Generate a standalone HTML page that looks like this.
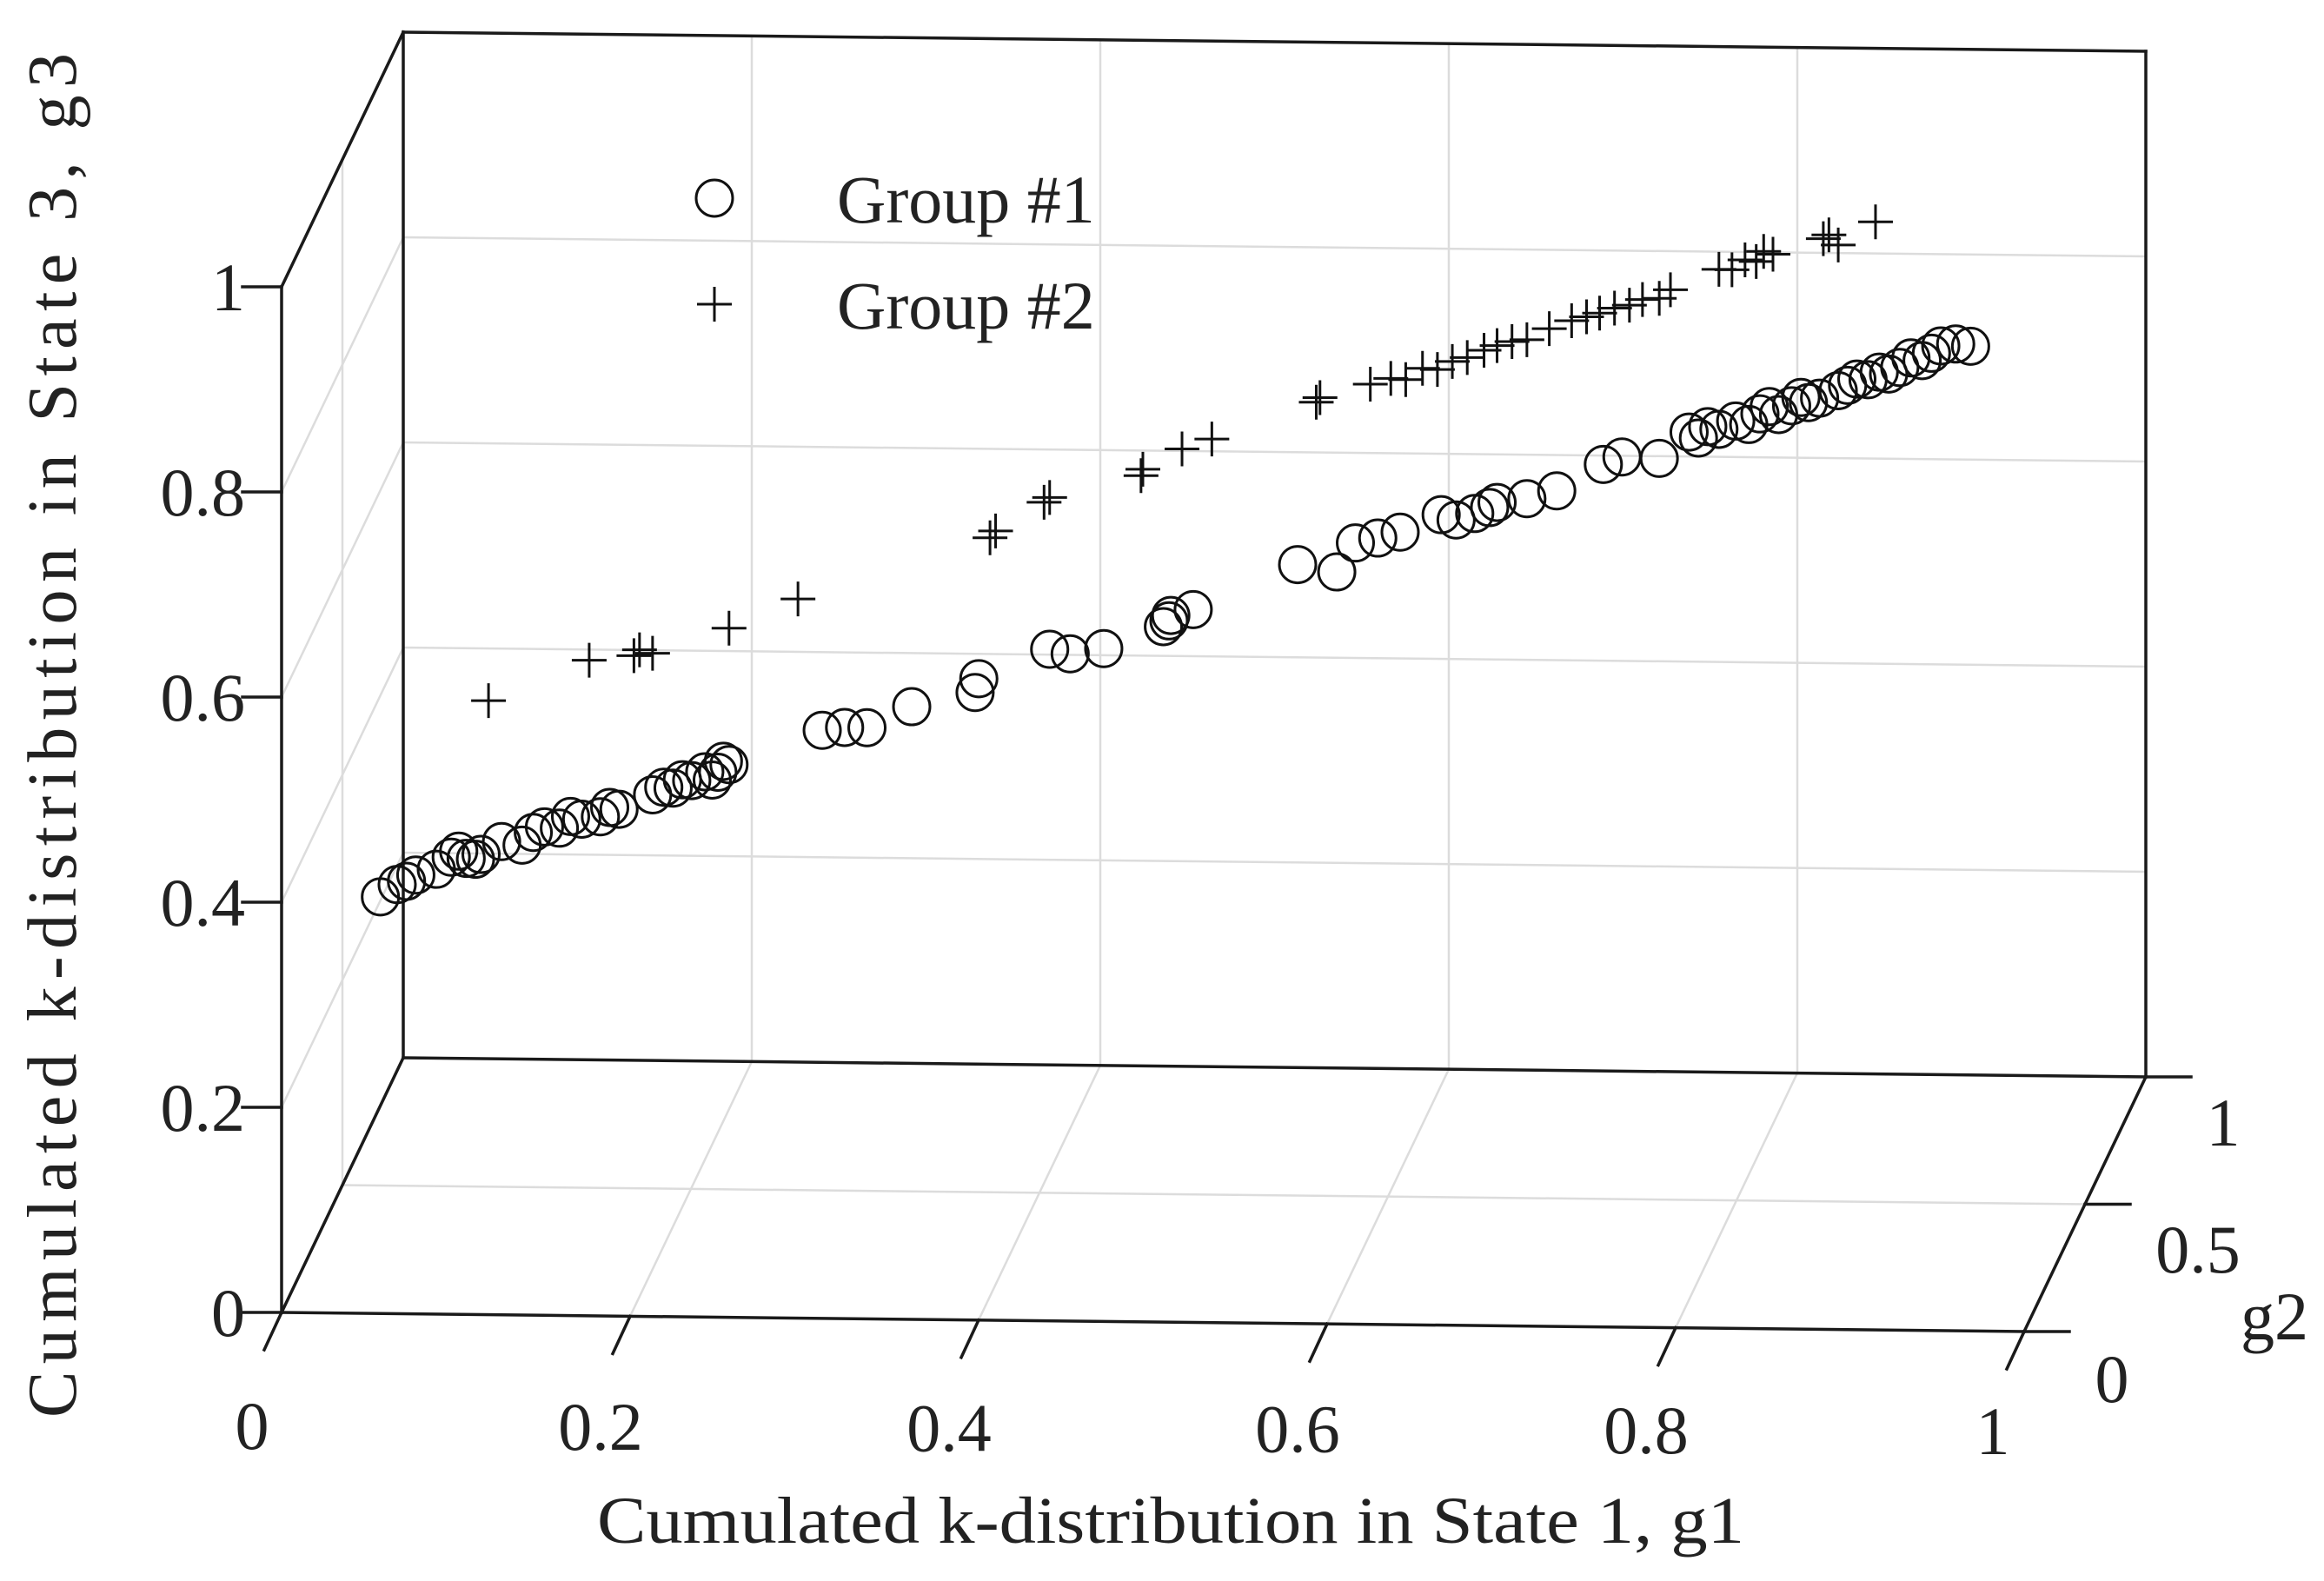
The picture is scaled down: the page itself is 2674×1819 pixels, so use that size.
<!DOCTYPE html>
<html><head><meta charset="utf-8"><style>
html,body{margin:0;padding:0;background:#fff}
svg{display:block}
text{font-family:"Liberation Serif",serif;fill:#222}
</style></head><body>
<svg id="chart" width="2674" height="1819" viewBox="0 0 2674 1819" xmlns="http://www.w3.org/2000/svg">
<g id="grid"></g>
<g id="box"></g>
<g id="ticks"></g>
<g id="marks"></g>
<text x="1347" y="1775" font-size="76" text-anchor="middle" textLength="1320" lengthAdjust="spacingAndGlyphs">Cumulated k-distribution in State 1, g1</text>
<text transform="translate(87,846) rotate(-90)" font-size="80" text-anchor="middle" textLength="1570" lengthAdjust="spacing">Cumulated k-distribution in State 3, g3</text>
<text x="2617" y="1541" font-size="78" text-anchor="middle">g2</text>
<g>
  <circle cx="822" cy="228" r="21" fill="none" stroke="#111" stroke-width="3"/>
  <text x="963" y="256" font-size="78">Group #1</text>
  <path d="M802 350H842M822 330V370" stroke="#111" stroke-width="3"/>
  <text x="963" y="378" font-size="78">Group #2</text>
</g>
</svg>
<script>
const g1Circle=[.053,.062,.072,.083,.091,.099,.107,.129,.141,.149,.161,.171,.181,.199,.205,.215,.227,.234,.240,.290,.302,.314,.338,.372,.374,.412,.423,.441,.473,.477,.489,.545,.566,.576,.588,.600,.622,.640,.652,.668,.684,.709,.719,.739,.755,.771,.787,.803,.819,.835,.851,.862,.874,.890,.898,.906,
 .067,.095,.104,.118,.135,.155,.176,.210,.220,.231,.237,.476,.630,.648,.760,.765,.780,.793,.798,.810,.815,.825,.840,.845,.857,.868,.880,.885];
const g3Circle=[.393,.403,.410,.413,.423,.420,.422,.426,.441,.438,.444,.444,.449,.459,.465,.470,.475,.473,.479,.501,.501,.498,.513,.519,.532,.552,.545,.546,.560,.570,.573,.604,.592,.618,.620,.623,.635,.632,.640,.640,.644,.664,.669,.663,.685,.684,.685,.691,.699,.707,.714,.717,.730,.738,.738,.734,
 .405,.428,.418,.432,.437,.448,.452,.463,.468,.466,.483,.565,.628,.636,.678,.688,.690,.694,.700,.698,.705,.702,.711,.716,.720,.722,.726,.732];
const g1Plus=[.111,.165,.189,.199,.240,.277,.380,.409,.461,.483,.499,.555,.584,.603,.620,.636,.652,.668,.692,.707,.723,.739,.771,.791,.795,.827,.835,.855,
 .192,.383,.412,.462,.557,.595,.612,.628,.645,.660,.680,.700,.715,.730,.745,.778,.785,.800,.830];
const g3Plus=[.571,.598,.597,.597,.612,.632,.668,.696,.710,.731,.737,.760,.771,.771,.777,.785,.793,.795,.808,.812,.816,.819,.840,.843,.852,.857,.849,.867,
 .602,.674,.700,.716,.764,.774,.780,.783,.790,.795,.803,.810,.815,.820,.826,.838,.846,.848,.860];
const xTicks=[0,0.2,0.4,0.6,0.8,1];
const xTickLabels=["0","0.2","0.4","0.6","0.8","1"];
const zTicks=[0,0.2,0.4,0.6,0.8,1];
const zTickLabels=["0","0.2","0.4","0.6","0.8","1"];
const yTicks=[0,0.5,1];
const yTickLabels=["0","0.5","1"];

const NS="http://www.w3.org/2000/svg";
const O=[324,1510],EX=[2005,22],EY=[140,-293],EZ=[0,-1180];
function P(a,b,c){return [O[0]+a*EX[0]+b*EY[0]+c*EZ[0],O[1]+a*EX[1]+b*EY[1]+c*EZ[1]];}
function line(par,p,q,stroke,w,name){
  const l=document.createElementNS(NS,'line');
  l.setAttribute('x1',p[0]);l.setAttribute('y1',p[1]);l.setAttribute('x2',q[0]);l.setAttribute('y2',q[1]);
  l.setAttribute('stroke',stroke);l.setAttribute('stroke-width',w);l.setAttribute('stroke-linecap','square');
  
  
  par.appendChild(l);return l;
}
function txt(par,x,y,s,anchor,name){
  const t=document.createElementNS(NS,'text');
  t.setAttribute('x',x);t.setAttribute('y',y);t.setAttribute('font-size','78');t.setAttribute('text-anchor',anchor);
  t.textContent=s;
  
  
  par.appendChild(t);
}
const grid=document.getElementById('grid'),box=document.getElementById('box'),ticks=document.getElementById('ticks'),marks=document.getElementById('marks');
const GC='#dcdcdc',GW=2.5;
xTicks.slice(1,-1).forEach(v=>line(grid,P(v,1,0),P(v,1,1),GC,GW,'grid-back-vertical'));
zTicks.slice(1,-1).forEach(v=>line(grid,P(0,1,v),P(1,1,v),GC,GW,'grid-back-horizontal'));
zTicks.slice(1,-1).forEach(v=>line(grid,P(0,0,v),P(0,1,v),GC,GW,'grid-left-depth'));
line(grid,P(0,0.5,0),P(0,0.5,1),GC,GW,'grid-left-vertical');
xTicks.slice(1,-1).forEach(v=>line(grid,P(v,0,0),P(v,1,0),GC,GW,'grid-floor-depth'));
line(grid,P(0,0.5,0),P(1,0.5,0),GC,GW,'grid-floor-horizontal');
const K='#1a1a1a',KW=3.5;
line(box,P(0,0,0),P(1,0,0),K,KW,'x-axis-line');
line(box,P(0,0,0),P(0,0,1),K,KW,'z-axis-line');
line(box,P(1,0,0),P(1,1,0),K,KW,'y-axis-line');
line(box,P(0,0,0),P(0,1,0),K,KW,'floor-left-edge');
line(box,P(0,0,1),P(0,1,1),K,KW,'top-left-edge');
line(box,P(0,1,0),P(0,1,1),K,KW,'back-left-edge');
line(box,P(0,1,1),P(1,1,1),K,KW,'back-top-edge');
line(box,P(1,1,0),P(1,1,1),K,KW,'back-right-edge');
line(box,P(0,1,0),P(1,1,0),K,KW,'back-bottom-edge');
xTicks.forEach((v,i)=>{const p=P(v,0,0);line(ticks,p,[p[0]-20,p[1]+43],K,KW,'x-tick');
  txt(ticks,p[0]-34+(v===1?-2:0),1667+v*6,xTickLabels[i],'middle','x-tick-label');});
zTicks.forEach((v,i)=>{const p=P(0,0,v);line(ticks,[p[0]-45,p[1]],p,K,KW,'z-tick');
  txt(ticks,282,p[1]+27,zTickLabels[i],'end','z-tick-label');});
const yLab=[[2430,1613],[2529,1464],[2558,1318]];
yTicks.forEach((v,i)=>{const p=P(1,v,0);line(ticks,p,[p[0]+52,p[1]],K,KW,'y-tick');
  txt(ticks,yLab[i][0],yLab[i][1],yTickLabels[i],'middle','y-tick-label');});
g1Circle.forEach((a,i)=>{const p=P(a,a,g3Circle[i]);
  const c=document.createElementNS(NS,'circle');
  c.setAttribute('cx',p[0]);c.setAttribute('cy',p[1]);c.setAttribute('r',21);
  c.setAttribute('fill','none');c.setAttribute('stroke','#111');c.setAttribute('stroke-width','3');
  
  
  marks.appendChild(c);});
g1Plus.forEach((a,i)=>{const p=P(a,a,g3Plus[i]);
  const s=document.createElementNS(NS,'path');
  s.setAttribute('d',`M${p[0]-20} ${p[1]}H${p[0]+20}M${p[0]} ${p[1]-20}V${p[1]+20}`);
  s.setAttribute('stroke','#111');s.setAttribute('stroke-width','3');
  
  
  marks.appendChild(s);});
</script>
</body></html>
